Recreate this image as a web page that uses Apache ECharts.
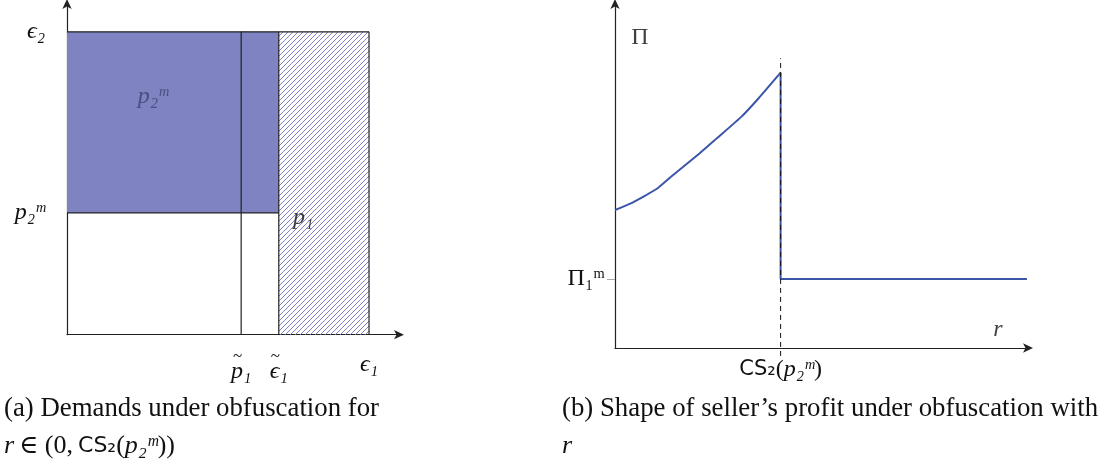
<!DOCTYPE html>
<html>
<head>
<meta charset="utf-8">
<script src="https://cdn.jsdelivr.net/npm/echarts@6/dist/echarts.min.js"></script>
<style>
  html, body { margin: 0; padding: 0; background: #fff; }
  #chart { width: 1105px; height: 464px; }
</style>
</head>
<body>
<div id="chart"></div>
<script>
// panel (a): demand regions, in axis units
const eps1 = 90.7
const eps2 = 91.3
const pTilde1 = 52.3
const epsTilde1 = 63.6
const p2m = 36.7
const xTicksA = [pTilde1, epsTilde1, eps1]
const xTickLabelsA = ['{t|~}\n{it|p₁}', '{t|~}\n{it|ϵ₁}', '{it|ϵ₁}']
const yTicksA = [p2m, eps2]
const yTickLabelsA = ['{it|p₂ᵐ}', '{it|ϵ₂}']

// panel (b): seller's profit against r
const rCurve = [0, 3.4, 6.9, 10.3, 13.6, 20.4, 24.6, 30.5, 34.7, 40]
const profitCurve = [40, 41.7, 43.9, 46.3, 49.7, 56.4, 60.8, 67, 72.4, 79.8]
const cs2 = 40
const pi1m = 20
const rEnd = 99.5
const dashFrom = -2.3
const dashTo = 84

const serif = '"Liberation Serif", "DejaVu Serif", serif'
const sans = '"DejaVu Sans", "Liberation Sans", sans-serif'
const rich = {
  it: { fontFamily: serif, fontStyle: 'italic', fontWeight: 'normal', fontSize: 24, color: '#111' },
  rm: { fontFamily: serif, fontWeight: 'normal', fontSize: 24, color: '#111' },
  sans: { fontFamily: sans, fontWeight: 'normal', fontSize: 21, color: '#111' },
  t: { fontFamily: serif, fontWeight: 'normal', fontSize: 17, color: '#111', lineHeight: 7, padding: [0, 7, 0, 0] }
}

// hatch pattern for the p1 region
function hatch() {
  const c = document.createElement('canvas')
  c.width = 5
  c.height = 5
  const ctx = c.getContext('2d')
  ctx.strokeStyle = '#7d82c8'
  ctx.lineWidth = 1
  ctx.beginPath()
  ctx.moveTo(-1, 6); ctx.lineTo(6, -1)
  ctx.moveTo(-1, 1); ctx.lineTo(1, -1)
  ctx.moveTo(4, 6); ctx.lineTo(6, 4)
  ctx.stroke()
  return c
}

function rectItem(fill) {
  return function (params, api) {
    const a = api.coord([api.value(0), api.value(1)])
    const b = api.coord([api.value(2), api.value(3)])
    return {
      type: 'rect',
      shape: { x: a[0], y: b[1], width: b[0] - a[0], height: a[1] - b[1] },
      style: { fill: fill, stroke: null }
    }
  }
}

const segmentsA = [
  [[0, eps2], [eps1, eps2]],
  [[eps1, 0], [eps1, eps2]],
  [[epsTilde1, 0], [epsTilde1, eps2]],
  [[pTilde1, 0], [pTilde1, eps2]],
  [[0, p2m], [epsTilde1, p2m]]
]

const chart = echarts.init(document.getElementById('chart'))

const axisArrow = {
  show: true,
  symbol: ['none', 'arrow'],
  symbolSize: [7, 10],
  symbolOffset: [0, 4],
  lineStyle: { color: '#222', width: 1.2 }
}

const captionStyle = { fontFamily: serif, fontSize: 26.8, fontWeight: 'normal', color: '#111' }
const capRich = {
  it: Object.assign({}, rich.it, { fontSize: 26 }),
  rm: Object.assign({}, rich.rm, { fontSize: 26 }),
  sans: Object.assign({}, rich.sans, { fontSize: 22 })
}

chart.setOption({
  animation: false,
  title: [
    { left: 4, top: 395, padding: 0, text: '(a) Demands under obfuscation for', textStyle: captionStyle },
    { left: 4, top: 433, padding: 0, text: '{it|r} {rm|∈ (0,} {sans|CS₂}{rm|(}{it|p₂ᵐ}{rm|))}', textStyle: { rich: capRich } },
    { left: 562, top: 395, padding: 0, text: '(b) Shape of seller’s profit under obfuscation with', textStyle: captionStyle },
    { left: 562, top: 433, padding: 0, text: '{it|r}', textStyle: { rich: capRich } }
  ],
  grid: [
    { left: 67, top: 3, width: 333, height: 331.7 },
    { left: 615, top: 3, width: 414, height: 345 }
  ],
  xAxis: [
    {
      gridIndex: 0, type: 'value', min: 0, max: 100,
      splitLine: { show: false },
      axisLine: axisArrow,
      axisTick: { show: false },
      axisLabel: {
        customValues: xTicksA,
        margin: 18,
        formatter: v => xTickLabelsA[xTicksA.indexOf(v)],
        rich: rich
      }
    },
    {
      gridIndex: 1, type: 'value', min: 0, max: 100,
      splitLine: { show: false },
      axisLine: axisArrow,
      axisTick: { show: false },
      axisLabel: {
        customValues: [cs2],
        margin: 10,
        formatter: () => '{sans|CS₂}{rm|(}{it|p₂ᵐ}{rm|)}',
        rich: rich
      }
    }
  ],
  yAxis: [
    {
      gridIndex: 0, type: 'value', min: 0, max: 100,
      splitLine: { show: false },
      axisLine: axisArrow,
      axisTick: { show: false },
      axisLabel: {
        customValues: yTicksA,
        margin: 22,
        formatter: v => yTickLabelsA[yTicksA.indexOf(v)],
        rich: rich
      }
    },
    {
      gridIndex: 1, type: 'value', min: 0, max: 100,
      splitLine: { show: false },
      axisLine: axisArrow,
      axisTick: { show: true, customValues: [pi1m], length: 8, lineStyle: { color: '#aaa' } },
      axisLabel: {
        customValues: [pi1m],
        margin: 10,
        formatter: () => '{rm|Π₁ᵐ}',
        rich: rich
      }
    }
  ],
  series: [
    {
      type: 'custom', xAxisIndex: 0, yAxisIndex: 0,
      renderItem: rectItem('#7f83c1'),
      data: [[0, p2m, epsTilde1, eps2]]
    },
    {
      type: 'custom', xAxisIndex: 0, yAxisIndex: 0,
      renderItem: rectItem({ image: hatch(), repeat: 'repeat' }),
      data: [[epsTilde1, 0, eps1, eps2]]
    },
    ...segmentsA.map(seg => ({
      type: 'line', xAxisIndex: 0, yAxisIndex: 0,
      data: seg, symbol: 'none', silent: true,
      lineStyle: { color: '#222', width: 1.2 }
    })),
    {
      type: 'scatter', xAxisIndex: 0, yAxisIndex: 0, symbolSize: 0,
      data: [
        { value: [25.8, 71.7], label: { formatter: '{it|p₂ᵐ}', rich: { it: Object.assign({}, rich.it, { color: '#3d4170' }) } } },
        { value: [70.9, 35.2], label: { formatter: '{it|p₁}', rich: rich } }
      ],
      label: { show: true, position: 'inside' }
    },
    {
      type: 'line', xAxisIndex: 1, yAxisIndex: 1,
      data: rCurve.map((r, i) => [r, profitCurve[i]]),
      smooth: 0.15, symbol: 'none',
      lineStyle: { color: '#3b56a9', width: 2 }
    },
    {
      type: 'line', xAxisIndex: 1, yAxisIndex: 1,
      data: [[cs2, profitCurve[profitCurve.length - 1]], [cs2, pi1m], [rEnd, pi1m]],
      symbol: 'none',
      lineStyle: { color: '#3b56a9', width: 2 }
    },
    {
      type: 'line', xAxisIndex: 1, yAxisIndex: 1, clip: false,
      data: [[cs2, dashFrom], [cs2, dashTo]],
      symbol: 'none',
      lineStyle: { color: '#111', width: 1, type: [5, 4] }
    },
    {
      type: 'scatter', xAxisIndex: 1, yAxisIndex: 1, symbolSize: 0,
      data: [
        { value: [6, 89.9], label: { formatter: '{rm|Π}' } },
        { value: [92.5, 5.2], label: { formatter: '{it|r}' } }
      ],
      label: { show: true, position: 'inside', rich: rich }
    }
  ]
})
</script>
</body>
</html>
